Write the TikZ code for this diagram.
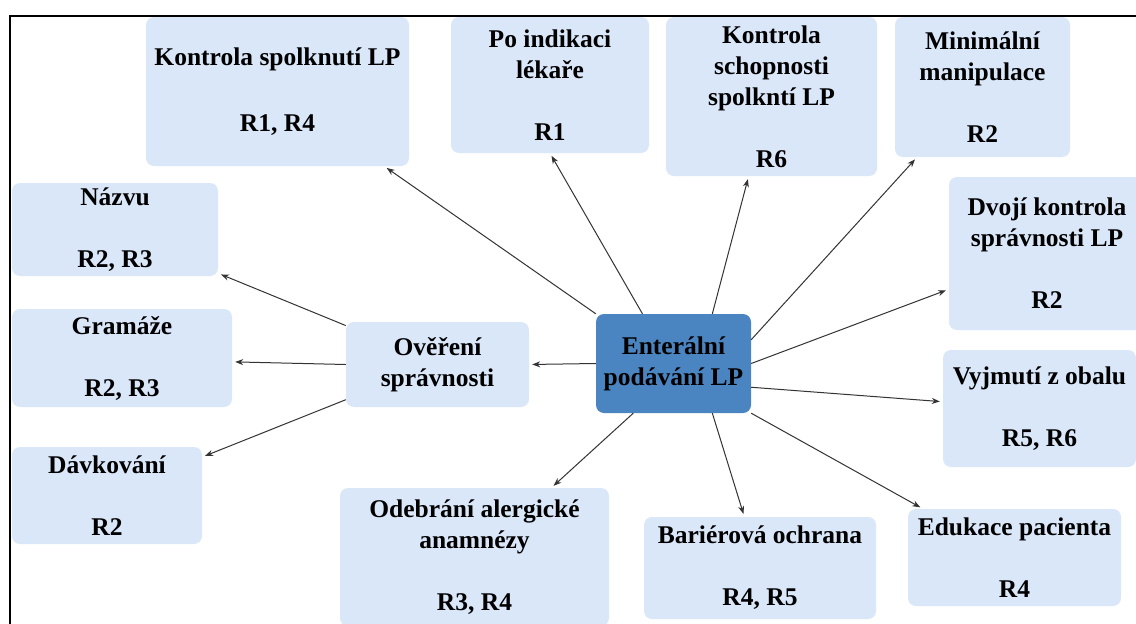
\documentclass[tikz,border=0pt]{standalone}
\usepackage{fontspec}
\setmainfont{Liberation Serif}
\usetikzlibrary{arrows.meta}

\definecolor{boxblue}{RGB}{218,231,249}
\definecolor{hubblue}{RGB}{74,133,193}
\tikzset{
	box/.style={shape=rectangle, rounded corners=8pt, fill=boxblue, align=center, inner sep=0pt, font=\bfseries\fontsize{25.5}{31}\selectfont},
	hub/.style={box, fill=hubblue},
	link/.style={->, >={Stealth[length=8pt, width=6pt]}, black!80, line width=1pt, shorten >=3pt},
}

\begin{document}
\begin{tikzpicture}[x=1pt, y=-1pt]
	\clip (0, 0) rectangle (1136, 624);
	\fill[white] (0, 0) rectangle (1136, 624);
	\draw[line width=1.5pt] (10, 640) -- (10, 16) -- (1150, 16);

	\node[hub, minimum width=155pt, minimum height=99pt] (C) at (673.5, 363.5) {Enterální\\podávání LP};
	\node[box, minimum width=183pt, minimum height=85pt] (V) at (437.5, 364.5) {Ověření\\správnosti};

	\node[box, minimum width=263pt, minimum height=149pt] (T1) at (277.5, 91.5) {Kontrola spolknutí LP\\[35pt]R1, R4};
	\node[box, minimum width=198pt, minimum height=136pt] (T2) at (550, 85) {Po indikaci\\lékaře\\[31pt]R1};
	\node[box, minimum width=211pt, minimum height=159pt] (T3) at (771.5, 96.5) {Kontrola\\schopnosti\\spolkntí LP\\[31pt]R6};
	\node[box, minimum width=175pt, minimum height=140pt] (T4) at (982.5, 87) {Minimální\\manipulace\\[31pt]R2};

	\node[box, minimum width=196pt, minimum height=153pt] (P1) at (1047, 253.5) {Dvojí kontrola\\správnosti LP\\[31pt]R2};
	\node[box, minimum width=193pt, minimum height=117pt] (P2) at (1039.5, 408.5) {Vyjmutí z obalu\\[31pt]R5, R6};
	\node[box, minimum width=213pt, minimum height=97pt] (P3) at (1014.5, 557.5) {Edukace pacienta\\[31pt]R4};

	\node[box, minimum width=232pt, minimum height=102pt] (B1) at (760, 568) {Bariérová ochrana\\[31pt]R4, R5};
	\node[box, minimum width=269pt, minimum height=138pt] (B2) at (474.5, 557) {Odebrání alergické\\anamnézy\\[31pt]R3, R4};

	\node[box, minimum width=206pt, minimum height=93pt] (L1) at (115, 229.5) {Názvu\\[31pt]R2, R3};
	\node[box, minimum width=220pt, minimum height=98pt] (L2) at (122, 358) {Gramáže\\[31pt]R2, R3};
	\node[box, minimum width=190pt, minimum height=97pt] (L3) at (107, 495.5) {Dávkování\\[31pt]R2};

	\path [link] (C.north west) edge (T1.-35);
	\path [link] (C.122) edge (T2.south);
	\path [link] (C.52) edge (T3.-106);
	\path [link] (C.17.5) edge (T4.-133);

	\path [link] (C.east) edge (P1.-160);
	\path [link] (C.-17.5) edge (P2.176);
	\path [link] (C.south east) edge (P3.152);

	\path [link] (C.-52) edge (B1.107);
	\path [link] (C.-129) edge (B2.42);

	\path [link] (C.west) edge (V.east);
	\path [link] (V.157) edge (L1.-23);
	\path [link] (V.west) edge (L2.-2);
	\path [link] (V.-159) edge (L3.22);

\end{tikzpicture}
\end{document}
